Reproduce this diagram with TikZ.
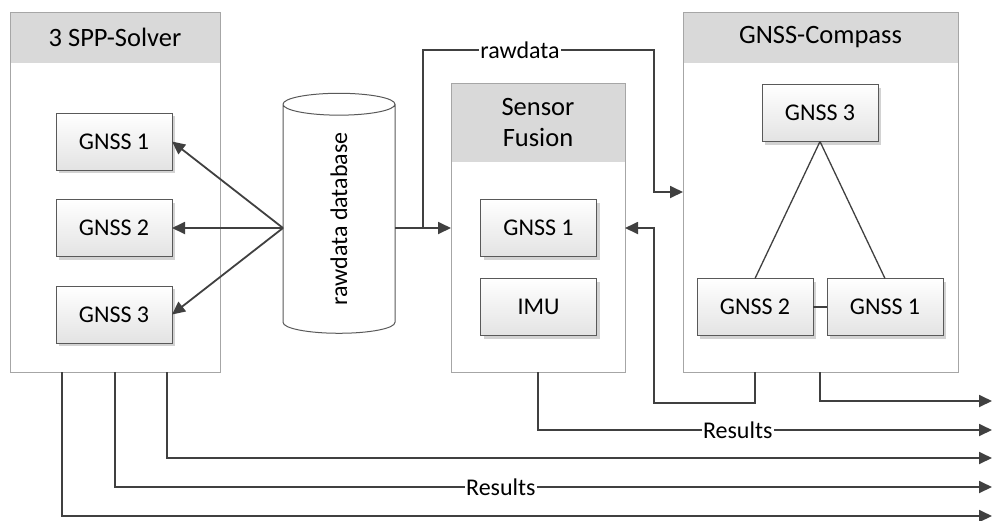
\documentclass[tikz,border=0pt]{standalone}
\usepackage{fontspec}
\setmainfont{Carlito}
\usepackage{tikz}
\usetikzlibrary{arrows.meta}
\usetikzlibrary{shapes.geometric}
\usetikzlibrary{shadows}
\usetikzlibrary{calc}

\newcommand{\headfont}{\fontsize{26.5}{31}\selectfont}
\newcommand{\bodyfont}{\fontsize{24}{28}\selectfont}

\begin{document}
\begin{tikzpicture}[x=1pt, y=-1pt,
    %Option for nice arrows
    >={Triangle[length=13pt, width=12pt]}, %
    inner sep=0pt, outer sep=0pt,%
    frame/.style={draw=framegray, line width=1pt, anchor=north west},
    header/.style={fill=headgray, anchor=north west, font=\headfont, align=center},
    unit/.style={draw=unitgray, line width=1pt, top color=white, bottom color=black!11,
        minimum width=116pt, minimum height=57pt, font=\bodyfont,
        drop shadow={shadow xshift=3pt, shadow yshift=-3pt, fill=black!35}},
    database/.style={cylinder, draw=unitgray, line width=1pt, fill=white, aspect=1.3,
        font=\bodyfont},
    flow/.style={draw=linegray, line width=1.8pt},
    link/.style={draw=linegray, line width=1.3pt},
    lbl/.style={fill=white, font=\bodyfont, inner xsep=1pt},
]
    % Colors
    \definecolor{linegray}{HTML}{404040}
    \definecolor{framegray}{HTML}{A6A6A6}
    \definecolor{headgray}{HTML}{D9D9D9}
    \definecolor{unitgray}{HTML}{595959}

    \useasboundingbox (0,0) rectangle (993,520);

    % SPP solver with three receivers
    \node[header, minimum width=210pt, minimum height=51pt] (spphead) at (10,12) {3 SPP-Solver};
    \node[frame,  minimum width=210pt, minimum height=360pt] (spp) at (10,12) {};
    \node[unit] (spp1) at (114,141.5) {GNSS 1};
    \node[unit] (spp2) at (114,228)   {GNSS 2};
    \node[unit] (spp3) at (114,314.5) {GNSS 3};

    % Sensor fusion
    \node[header, minimum width=174pt, minimum height=79pt] (sfhead) at (451,83) {Sensor\\Fusion};
    \node[frame,  minimum width=174pt, minimum height=289pt] (sf) at (451,83) {};
    \node[unit] (sf1) at (538.5,228) {GNSS 1};
    \node[unit] (sf2) at (538.5,307) {IMU};

    % GNSS compass, receivers on a triangle
    \node[header, minimum width=275pt, minimum height=51pt] (gchead) at (683,12) {GNSS-Compass};
    \node[frame,  minimum width=275pt, minimum height=360pt] (gc) at (683,12) {};
    \node[unit] (gc3) at (820,113) {GNSS 3};
    \node[unit] (gc2) at (755,307) {GNSS 2};
    \node[unit] (gc1) at (885,307) {GNSS 1};

    \draw[link] (gc3.south) -- (gc2.north);
    \draw[link] (gc3.south) -- (gc1.north);
    \draw[link] (gc2) -- (gc1);

    % Database (rotated: north is the left side, south the right side)
    \node[database, minimum width=112pt, minimum height=240pt, rotate=90] (db) at (339,219)
        {rawdata database};

    \foreach \n in {1,2,3}
        \draw[flow, ->] (db.north |- spp2) -- (spp\n.east);

    \draw[flow, ->] (db.south |- sf1) -- (sf.west |- sf1);

    %Rawdata branch to the compass
    \coordinate (tap) at ($(db.south |- sf1)!0.5!(sf.west |- sf1)$);
    \coordinate (rawtop) at (654,50);
    \draw[flow, ->] (tap) |- node[lbl, pos=0.71] {rawdata} (rawtop) |- (gc.west);

    %Compass heading back into the fusion
    \coordinate (fback) at (rawtop |- 0,403);
    \draw[flow, ->] (gc.south -| gc2) |- (fback) |- (sf.east |- sf1);

    % Results leaving on the right
    \coordinate (busend) at (992,0);
    \draw[flow, ->] (gc.south -| gc3) |- (busend |- 0,401);
    \draw[flow, ->] (sf.south) |- node[lbl, pos=0.72] {Results} (busend |- 0,430);
    \draw[flow, ->] ([xshift=52pt]spp.south) |- (busend |- 0,458);
    \draw[flow, ->] (spp.south) |- node[lbl, pos=0.72] {Results} (busend |- 0,487);
    \draw[flow, ->] ([xshift=-53pt]spp.south) |- (busend |- 0,516);
\end{tikzpicture}
\end{document}
